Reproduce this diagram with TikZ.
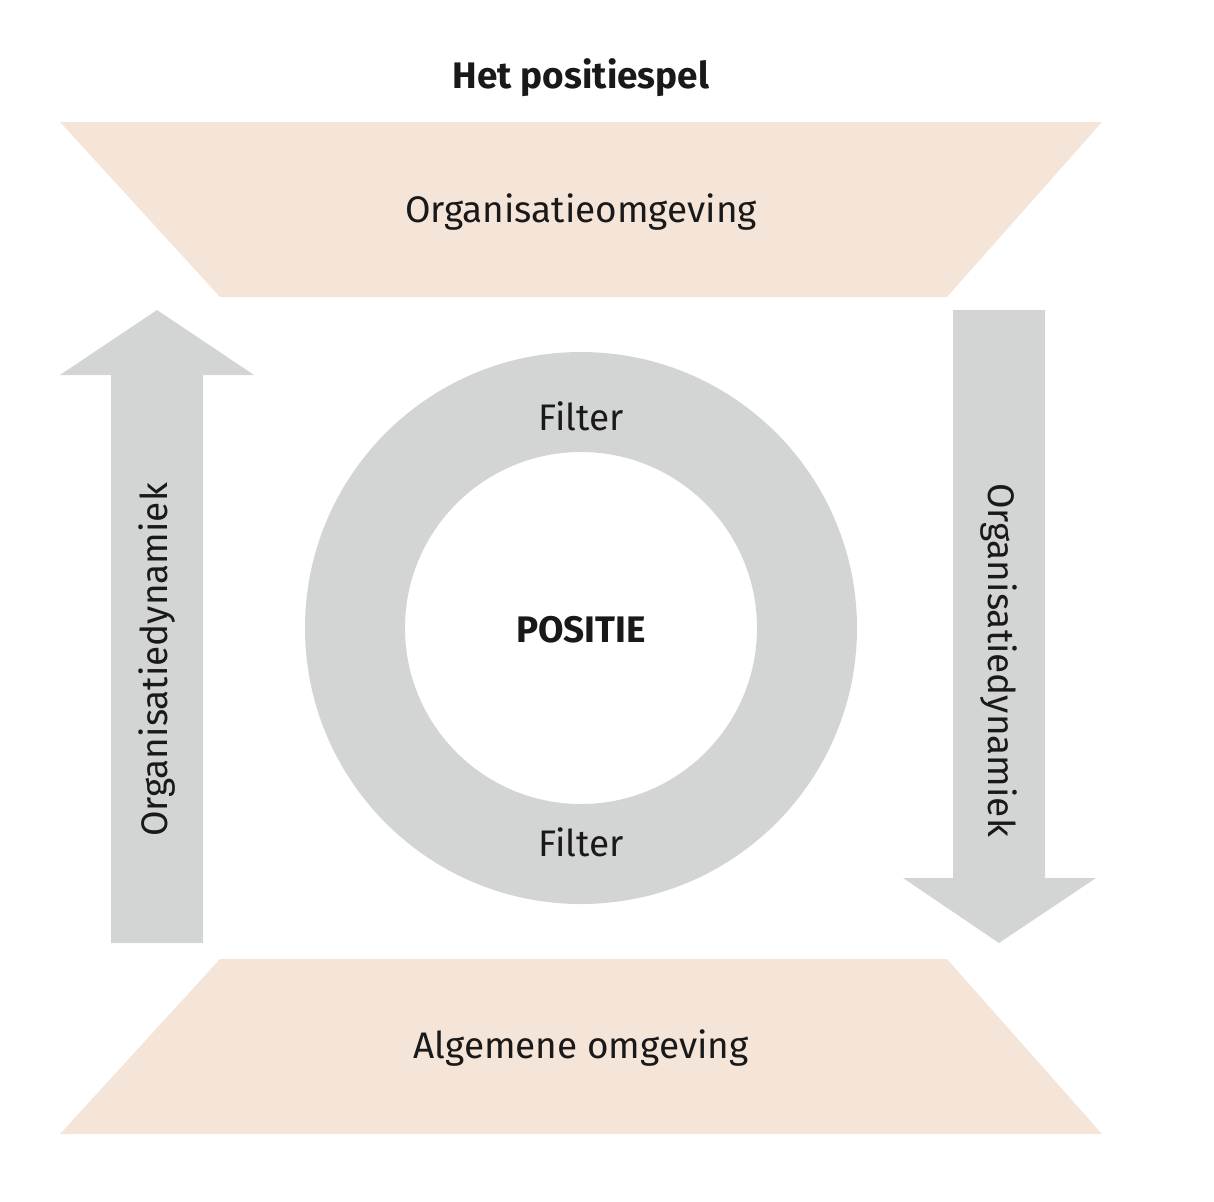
\documentclass[tikz,border=0pt]{standalone}
\usepackage{fontspec}
\setmainfont{Fira Sans}
\usetikzlibrary{positioning}
\definecolor{zand}{HTML}{F5E4D8}
\definecolor{grijs}{HTML}{D3D4D4}
\begin{document}
\begin{tikzpicture}[x=0.01cm,y=-0.01cm,
            band/.style={fill=zand, draw=none},
            pijl/.style={fill=grijs, draw=none},
            label/.style={font=\fontsize{10.5}{12}\selectfont, text=black!90},
            kop/.style={font=\fontsize{10.5}{12}\selectfont\bfseries, text=black!90}
        ]
            \useasboundingbox (0,0) rectangle (1214,1202);

% Omgevingen
            \fill[band] (60,122) -- (1102,122) -- (947,297) -- (220,297) -- cycle;
            \fill[band] (220,959) -- (947,959) -- (1102,1134) -- (60,1134) -- cycle;

% Dynamiek pijlen
            \fill[pijl] (111,943) -- (111,375) -- (60,375) -- (157,310) -- (254,375) -- (203,375) -- (203,943) -- cycle;
            \fill[pijl] (953,310) -- (1045,310) -- (1045,878) -- (1096,878) -- (999,943) -- (903,878) -- (953,878) -- cycle;

% Filter ring
            \fill[grijs, even odd rule] (581,628) circle[radius=276] (581,628) circle[radius=176];

% Teksten
            \node[kop] (titel) at (581,78) {Het positiespel};
            \node[label] (orgomg) at (581,212) {Organisatieomgeving};
            \node[label] (algomg) at (581,1048) {Algemene omgeving};
            \node[label] (filterboven) at (581,416) {Filter};
            \node[label] (filteronder) at (581,842) {Filter};
            \node[kop] (positie) at (581,630) {POSITIE};
            \node[label, rotate=90] (dynlinks) at (157,660) {Organisatiedynamiek};
            \node[label, rotate=-90] (dynrechts) at (999,660) {Organisatiedynamiek};

        \end{tikzpicture}
\end{document}
